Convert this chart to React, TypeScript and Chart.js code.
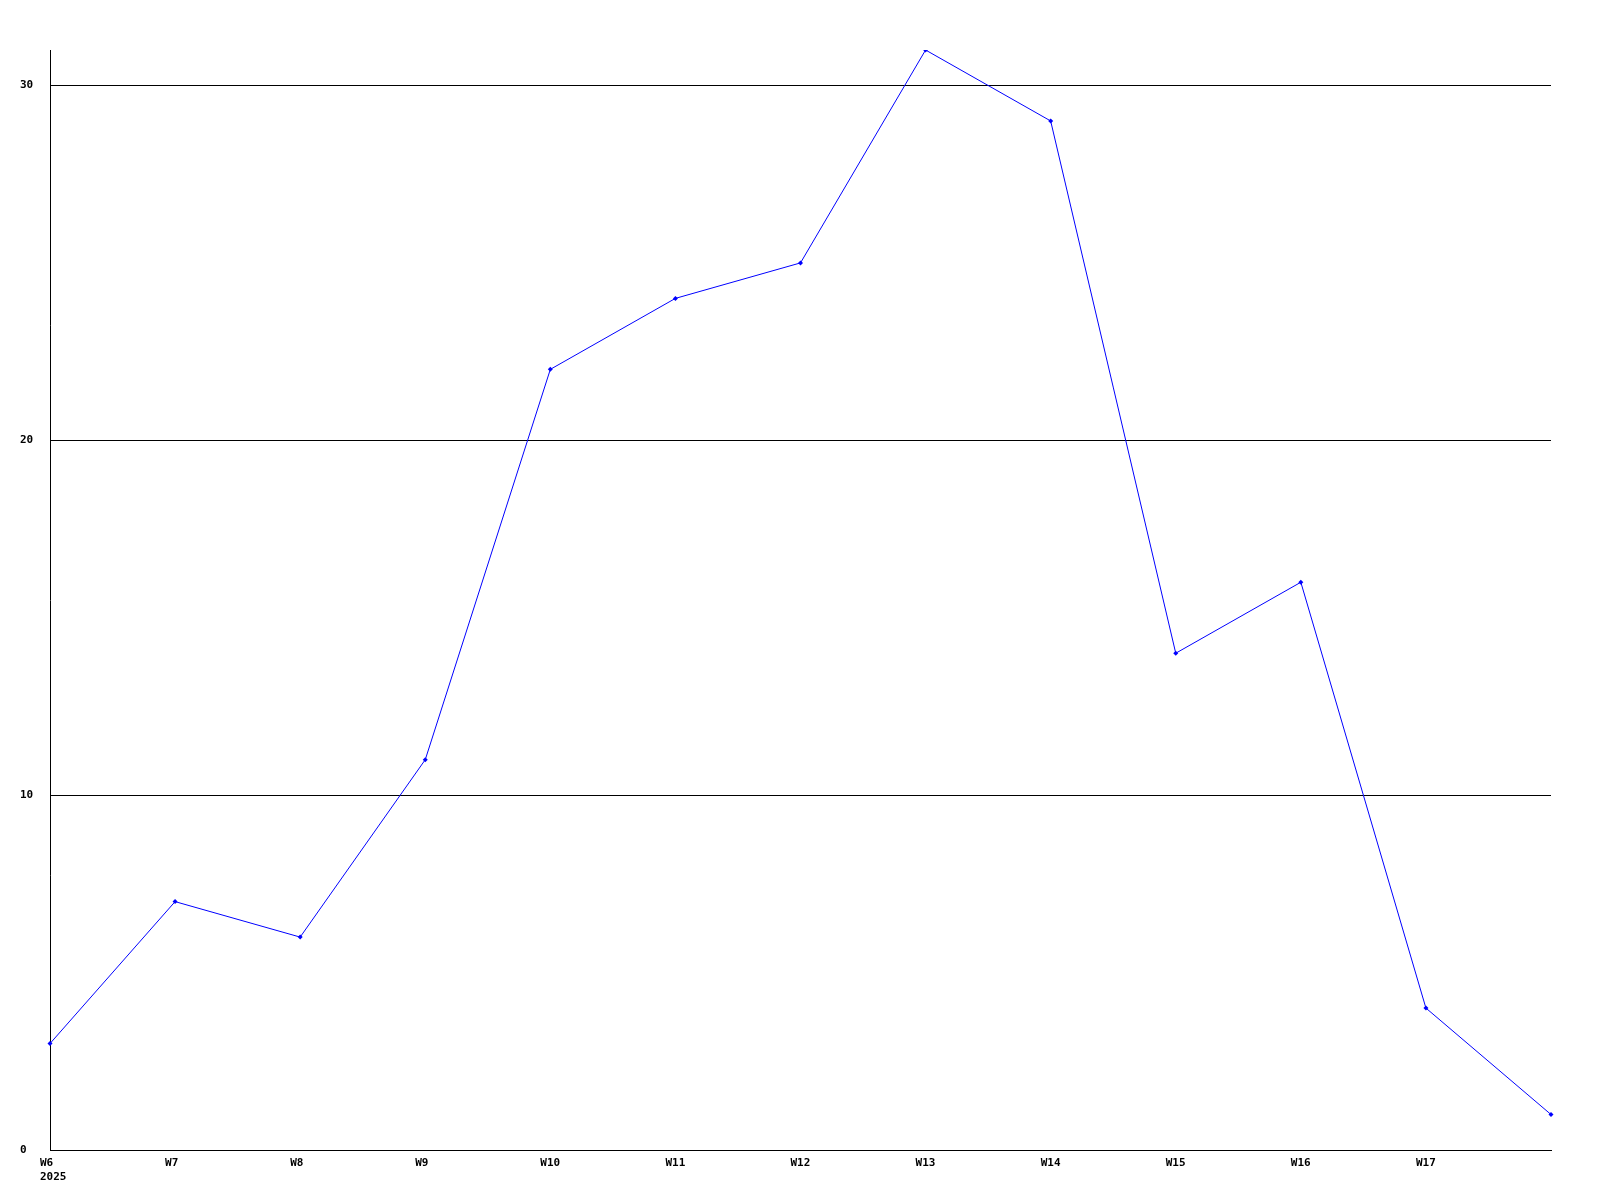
import React, { useEffect, useRef } from "react";
import { Chart, registerables } from "chart.js";

Chart.register(...registerables);

const weekLabels: (string | string[])[] = [
  ["W6", "2025"], "W7", "W8", "W9", "W10", "W11", "W12", "W13", "W14", "W15", "W16", "W17", "",
];
const seriesValues: number[] = [3, 7, 6, 11, 22, 24, 25, 31, 29, 14, 16, 4, 1];
const yTickValues: number[] = [0, 10, 20, 30];

export default function App() {
  const ref = useRef<HTMLCanvasElement | null>(null);
  useEffect(() => {
    if (!ref.current) return;
    const font = { family: "'DejaVu Sans Mono', monospace", size: 11, weight: "bold" as const };
    const chart = new Chart(ref.current, {
      type: "line",
      data: {
        labels: weekLabels,
        datasets: [
          {
            data: seriesValues,
            borderColor: "#0000ff",
            backgroundColor: "#0000ff",
            borderWidth: 1,
            pointStyle: "rectRot",
            pointRadius: 2.5,
            pointBorderWidth: 0,
            pointBackgroundColor: "#0000ff",
            tension: 0,
            fill: false,
          },
        ],
      },
      options: {
        responsive: false,
        animation: false,
        layout: { padding: { top: 50, right: 49, left: 20, bottom: 0 } },
        plugins: { legend: { display: false }, tooltip: { enabled: false } },
        scales: {
          x: {
            type: "category",
            offset: false,
            grid: { display: false, drawTicks: false },
            border: { display: true, color: "#000", width: 1 },
            ticks: {
              color: "#000",
              font,
              padding: 7,
              align: "start",
              labelOffset: -10,
              maxRotation: 0,
              minRotation: 0,
              autoSkip: false,
            },
            afterFit: (s: any) => {
              s.height = 50;
            },
          },
          y: {
            type: "linear",
            min: 0,
            max: 31,
            afterBuildTicks: (s: any) => {
              s.ticks = yTickValues.map((v) => ({ value: v }));
            },
            grid: {
              drawTicks: false,
              color: "#000",
              lineWidth: 1,
            },
            border: { display: true, color: "#000", width: 1 },
            ticks: { color: "#000", font, padding: 10, crossAlign: "far" },
            afterFit: (s: any) => {
              s.width = 30;
            },
          },
        },
      },
    });
    return () => chart.destroy();
  }, []);
  return (
    <canvas
      ref={ref}
      width={1600}
      height={1200}
      style={{ position: "absolute", left: 0, top: 0, width: 1600, height: 1200, background: "#fff" }}
    />
  );
}
